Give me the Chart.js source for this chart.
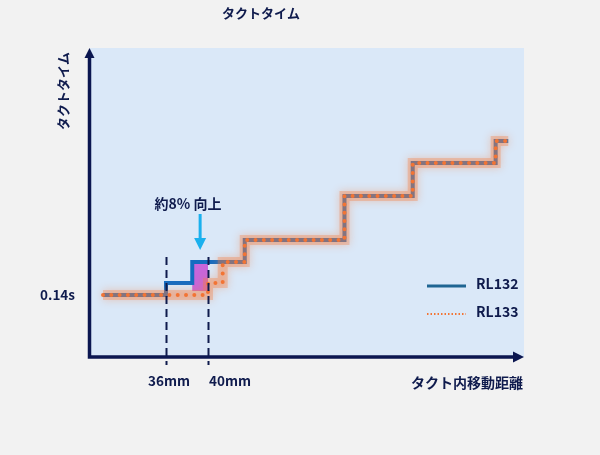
<!DOCTYPE html>
<html><head><meta charset="utf-8">
<script src="https://cdn.jsdelivr.net/npm/chart.js@4"></script>
<style>html,body{margin:0;padding:0;background:#f2f2f2;overflow:hidden}#wrap{width:600px;height:455px;}</style>
</head><body><div id="wrap"><canvas id="c" width="600" height="455"></canvas></div>
<script>
const chartTitle = 'タクトタイム';
const xAxisTitle = 'タクト内移動距離';
const yAxisTitle = 'タクトタイム';
const seriesNames = ['RL132', 'RL133'];
const rl132X = [30, 36, 38.5, 43.5, 53, 59.5, 67.4, 68.6];
const rl132Y = [0.14, 0.1455, 0.155, 0.165, 0.185, 0.2, 0.21, 0.21];
const rl133X = [30, 40, 41.4, 43.5, 53, 59.5, 67.4, 68.6];
const rl133Y = [0.14, 0.1455, 0.155, 0.165, 0.185, 0.2, 0.21, 0.21];
const xTickValues = [36, 40];
const xTickLabels = ['36mm', '40mm'];
const yTickValues = [0.14];
const yTickLabels = ['0.14s'];
const gainLabel = '約8% 向上';
const gainX = [38.5, 40];
const gainY = [0.1418, 0.155];

const FONT = '"Noto Sans CJK JP", "Noto Sans", sans-serif';
const NAVY = '#0f1b4d';
const BLUE = '#166cc0';
const ORANGE = '#f27434';

const pts = (xs, ys) => xs.map((x, i) => ({x: x, y: ys[i]}));

const glowPlugin = {
  id: 'glow',
  beforeDatasetDraw(chart, args) {
    const ds = chart.data.datasets[args.index];
    if (ds._glow) {
      chart.ctx.save();
      chart.ctx.shadowColor = 'rgba(242,125,65,1)';
      chart.ctx.shadowBlur = 9;
    }
  },
  afterDatasetDraw(chart, args) {
    const ds = chart.data.datasets[args.index];
    if (ds._glow) chart.ctx.restore();
  }
};

const decor = {
  id: 'decor',
  beforeDraw(chart) {
    const ctx = chart.ctx;
    ctx.save();
    ctx.fillStyle = '#f2f2f2';
    ctx.fillRect(0, 0, chart.width, chart.height);
    ctx.restore();
  },
  beforeDatasetsDraw(chart) {
    const ctx = chart.ctx, a = chart.chartArea, xs = chart.scales.x, ys = chart.scales.y;
    ctx.save();
    ctx.fillStyle = '#dae8f8';
    ctx.fillRect(a.left, a.top, a.right - a.left, a.bottom - a.top);
    const x0 = xs.getPixelForValue(gainX[0]), x1 = xs.getPixelForValue(gainX[1]);
    const y0 = ys.getPixelForValue(gainY[1]), y1 = ys.getPixelForValue(gainY[0]);
    ctx.fillStyle = '#c866da';
    ctx.fillRect(x0, y0, x1 - x0, y1 - y0);
    ctx.restore();
  },
  afterDatasetsDraw(chart) {
    const ctx = chart.ctx, a = chart.chartArea, xs = chart.scales.x, ys = chart.scales.y;
    ctx.save();
    ctx.strokeStyle = NAVY;
    ctx.lineWidth = 2;
    ctx.setLineDash([8, 5]);
    xTickValues.forEach(v => {
      const px = Math.round(xs.getPixelForValue(v)) + 0.5;
      ctx.beginPath();
      ctx.moveTo(px, 257);
      ctx.lineTo(px, a.bottom + 8);
      ctx.stroke();
    });
    ctx.setLineDash([]);
    ctx.strokeStyle = '#0b1650';
    ctx.fillStyle = '#0b1650';
    ctx.lineWidth = 3.5;
    ctx.beginPath();
    ctx.moveTo(a.left - 0.5, a.top + 8);
    ctx.lineTo(a.left - 0.5, a.bottom);
    ctx.lineTo(a.right - 8, a.bottom);
    ctx.stroke();
    ctx.beginPath();
    ctx.moveTo(a.left - 0.5, a.top);
    ctx.lineTo(a.left - 5.5, a.top + 10);
    ctx.lineTo(a.left + 4.5, a.top + 10);
    ctx.closePath();
    ctx.fill();
    ctx.beginPath();
    ctx.moveTo(a.right, a.bottom);
    ctx.lineTo(a.right - 11, a.bottom - 5.5);
    ctx.lineTo(a.right - 11, a.bottom + 5.5);
    ctx.closePath();
    ctx.fill();

    ctx.fillStyle = NAVY;
    ctx.textBaseline = 'middle';
    ctx.font = 'bold 13px ' + FONT;
    ctx.textAlign = 'center';
    ctx.fillText(chartTitle, 261, 13);

    ctx.font = 'bold 13.5px ' + FONT;
    yTickValues.forEach((v, i) => {
      ctx.textAlign = 'right';
      ctx.fillText(yTickLabels[i], 75, ys.getPixelForValue(v));
    });
    xTickValues.forEach((v, i) => {
      const px = xs.getPixelForValue(v);
      if (i === 0) { ctx.textAlign = 'center'; ctx.fillText(xTickLabels[i], px + 3, 381); }
      else { ctx.textAlign = 'left'; ctx.fillText(xTickLabels[i], px + 1, 381); }
    });

    ctx.font = 'bold 14px ' + FONT;
    ctx.textAlign = 'right';
    ctx.fillText(xAxisTitle, a.right - 1, 383);

    ctx.save();
    ctx.translate(63, 91);
    ctx.rotate(-Math.PI / 2);
    ctx.textAlign = 'center';
    ctx.font = 'bold 13px ' + FONT;
    ctx.fillText(yAxisTitle, 0, 0);
    ctx.restore();

    ctx.font = 'bold 14px ' + FONT;
    ctx.textAlign = 'center';
    ctx.fillText(gainLabel, 188, 204);
    const ax = xs.getPixelForValue(39.25);
    ctx.strokeStyle = '#1ab0ee';
    ctx.fillStyle = '#1ab0ee';
    ctx.lineWidth = 3;
    ctx.beginPath();
    ctx.moveTo(ax, 214);
    ctx.lineTo(ax, 241);
    ctx.stroke();
    ctx.beginPath();
    ctx.moveTo(ax, 250);
    ctx.lineTo(ax - 6, 238);
    ctx.lineTo(ax + 6, 238);
    ctx.closePath();
    ctx.fill();

    ctx.lineWidth = 3;
    ctx.strokeStyle = '#1f6592';
    ctx.beginPath();
    ctx.moveTo(427, 286);
    ctx.lineTo(466, 286);
    ctx.stroke();
    ctx.strokeStyle = ORANGE;
    ctx.lineWidth = 1.8;
    ctx.setLineDash([1.5, 2]);
    ctx.beginPath();
    ctx.moveTo(427, 314);
    ctx.lineTo(466, 314);
    ctx.stroke();
    ctx.setLineDash([]);
    ctx.fillStyle = NAVY;
    ctx.font = 'bold 14px ' + FONT;
    ctx.textAlign = 'left';
    ctx.fillText(seriesNames[0], 476, 284);
    ctx.fillText(seriesNames[1], 476, 312);
    ctx.restore();
  }
};

new Chart(document.getElementById('c'), {
  type: 'line',
  data: {
    datasets: [
      {label: seriesNames[0], data: pts(rl132X, rl132Y), stepped: true, borderColor: BLUE, borderWidth: 4, pointRadius: 0, order: 3, borderJoinStyle: 'miter'},
      {label: seriesNames[1] + ' glow', data: pts(rl133X, rl133Y), stepped: true, borderColor: 'rgba(242,125,65,0.33)', borderWidth: 10, pointRadius: 0, order: 2, _glow: true, borderJoinStyle: 'miter'},
      {label: seriesNames[1], data: pts(rl133X, rl133Y), stepped: true, borderColor: ORANGE, borderWidth: 4, borderDash: [0, 8.3], borderCapStyle: 'round', pointRadius: 0, order: 1}
    ]
  },
  options: {
    responsive: false,
    devicePixelRatio: 1,
    animation: false,
    events: [],
    layout: {padding: {left: 90, right: 76, top: 48, bottom: 98}},
    plugins: {legend: {display: false}, title: {display: false}, tooltip: {enabled: false}},
    scales: {
      x: {type: 'linear', min: 28.76, max: 70.1, display: false},
      y: {type: 'linear', min: 0.11182, max: 0.25227, display: false}
    }
  },
  plugins: [glowPlugin, decor]
});
</script>
</body></html>
